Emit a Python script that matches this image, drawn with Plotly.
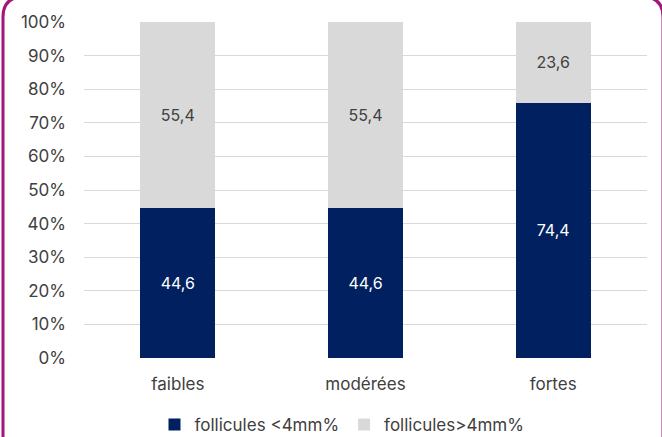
import plotly.graph_objects as go

categories = ["faibles", "modérées", "fortes"]
small_follicles = [44.6, 44.6, 74.4]   # follicules <4mm%
large_follicles = [55.4, 55.4, 23.6]   # follicules>4mm%
y_ticks = [0, 10, 20, 30, 40, 50, 60, 70, 80, 90, 100]

W, H = 662, 437
ML, MR, MT, MB = 84, 15, 22, 79
PW, PH = W - ML - MR, H - MT - MB


def fmt(v):
    return f"{v:.1f}".replace(".", ",")


def px(x):
    return (x - ML) / PW


def py(y):
    return (H - MB - y) / PH


FONT = "Inter, Roboto, Arial, sans-serif"
TXT = "#404040"

fig = go.Figure()
fig.add_trace(go.Bar(
    name="follicules <4mm%", x=categories, y=small_follicles,
    marker=dict(color="#002060", line=dict(width=0)),
    text=[fmt(v) for v in small_follicles], texttemplate="%{text}",
    textposition="inside", insidetextanchor="middle", textangle=0,
    textfont=dict(color="white", size=16, family=FONT),
    hoverinfo="skip",
))
fig.add_trace(go.Bar(
    name="follicules>4mm%", x=categories, y=large_follicles,
    marker=dict(color="#d9d9d9", line=dict(width=0)),
    text=[fmt(v) for v in large_follicles], texttemplate="%{text}",
    textposition="inside", insidetextanchor="middle", textangle=0,
    textfont=dict(color=TXT, size=16, family=FONT),
    hoverinfo="skip",
))

# rounded frame around the card, running off the top of the page
x0, x1, y0, y1, r = 3, 663, -3, H + 10, 20
path = (
    f"M {px(x0)},{py(y1)} L {px(x0)},{py(y0 + r)} "
    f"Q {px(x0)},{py(y0)} {px(x0 + r)},{py(y0)} "
    f"L {px(x1 - r)},{py(y0)} "
    f"Q {px(x1)},{py(y0)} {px(x1)},{py(y0 + r)} "
    f"L {px(x1)},{py(y1)}"
)
fig.add_shape(type="path", path=path, xref="paper", yref="paper",
              line=dict(color="#a3157c", width=3), layer="above")

fig.update_layout(
    width=W, height=H,
    margin=dict(l=ML, r=MR, t=MT, b=MB, autoexpand=False),
    barmode="stack", barnorm="percent", bargap=0.6,
    plot_bgcolor="white", paper_bgcolor="white",
    font=dict(family=FONT, color=TXT, size=16),
    showlegend=True,
    legend=dict(orientation="h", x=px(342), xanchor="center",
                yref="container", y=(H - 425) / H, yanchor="middle",
                font=dict(size=17, color=TXT),
                traceorder="normal", itemwidth=30),
    uniformtext=dict(minsize=16, mode="show"),
)
fig.update_xaxes(showline=False, ticks="", tickfont=dict(size=17, color=TXT),
                 ticklabelstandoff=14, range=[-0.5, 2.5])
fig.update_yaxes(range=[0, 100], tickvals=y_ticks,
                 ticktext=[f"{v}%" for v in y_ticks],
                 showgrid=True, gridcolor="#d9d9d9", gridwidth=1,
                 zeroline=False, showline=False, ticks="",
                 tickfont=dict(size=17, color=TXT), ticklabelstandoff=17)

fig.write_html("out.html")
